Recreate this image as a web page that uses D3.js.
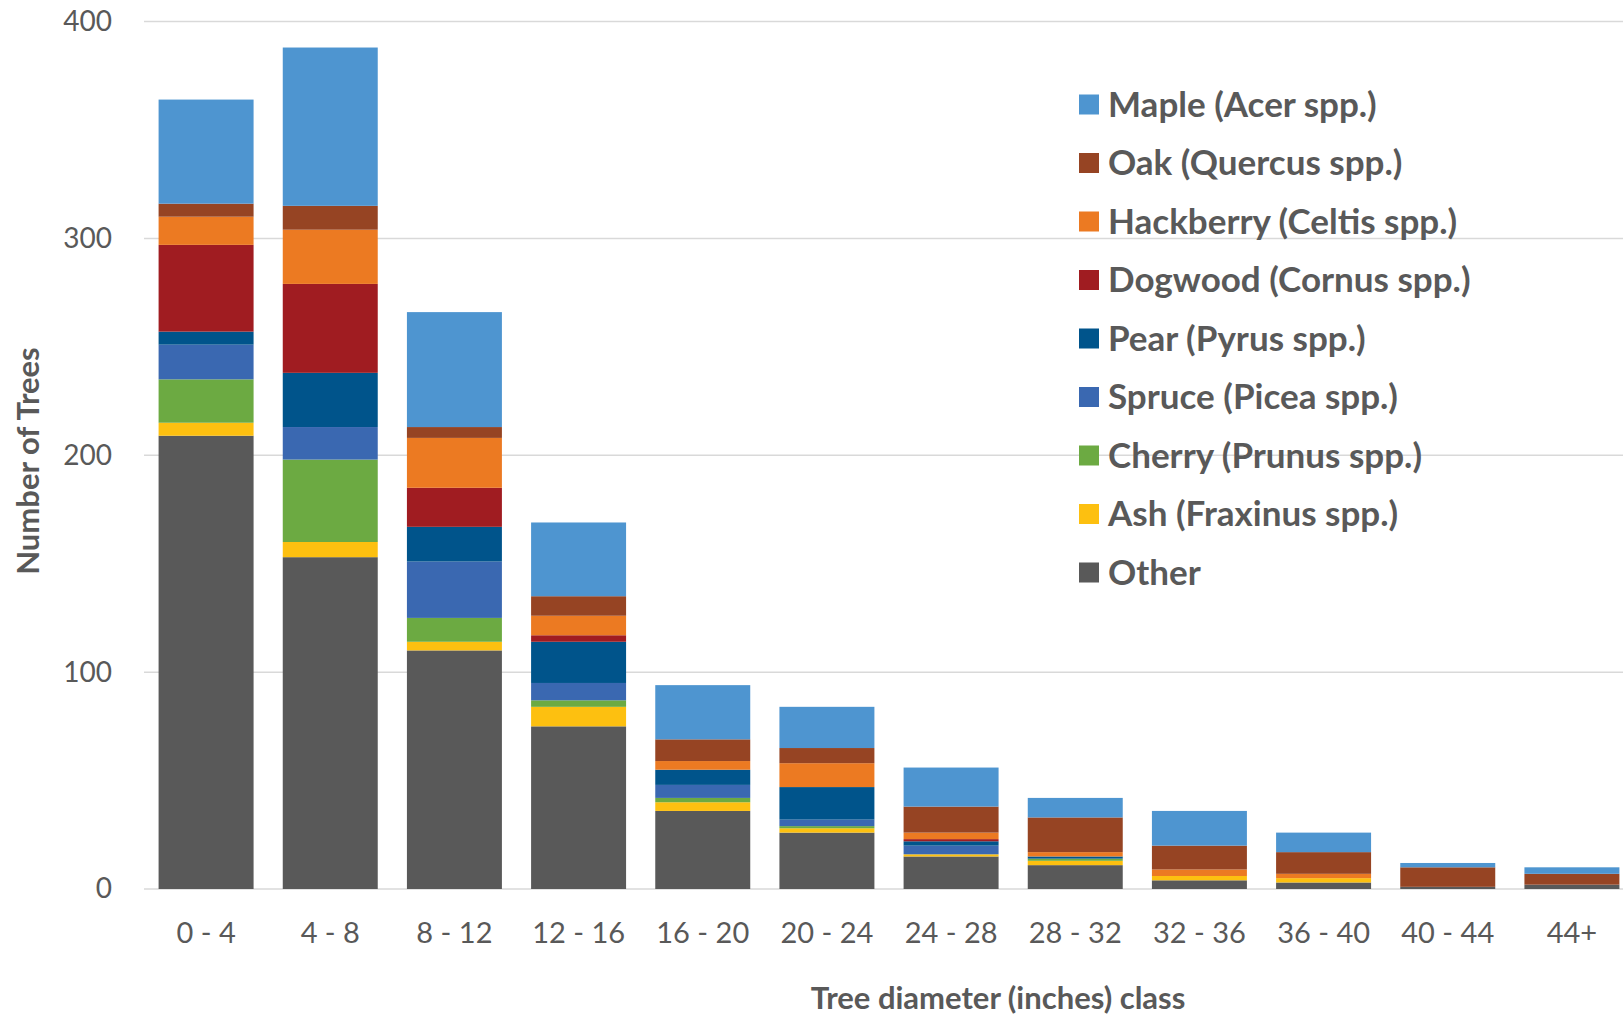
<!DOCTYPE html>
<html lang="en">
<meta charset="utf-8">
<head>
    <script src='https://d3js.org/d3.v7.min.js'></script>
    <style>
        body { margin: 0; background: #fff; }
        text { font-family: Lato, "Open Sans", sans-serif; fill: #595959; }
    </style>
</head>
<body>
<script>
    // diameter classes
    var categories = ["0 - 4", "4 - 8", "8 - 12", "12 - 16", "16 - 20", "20 - 24",
                      "24 - 28", "28 - 32", "32 - 36", "36 - 40", "40 - 44", "44+"];

    // number of trees per species, bottom to top of each stack
    var other     = [209, 153, 110, 75, 36, 26, 15, 11, 4, 3, 1, 2];
    var ash       = [6, 7, 4, 9, 4, 2, 1, 2, 2, 2, 0, 0];
    var cherry    = [20, 38, 11, 3, 2, 1, 0, 1, 0, 0, 0, 0];
    var spruce    = [16, 15, 26, 8, 6, 3, 4, 0, 0, 0, 0, 0];
    var pear      = [6, 25, 16, 19, 7, 15, 2, 1, 0, 0, 0, 0];
    var dogwood   = [40, 41, 18, 3, 0, 0, 1, 0, 0, 0, 0, 0];
    var hackberry = [13, 25, 23, 9, 4, 11, 3, 2, 3, 2, 0, 0];
    var oak       = [6, 11, 5, 9, 10, 7, 12, 16, 11, 10, 9, 5];
    var maple     = [48, 73, 53, 34, 25, 19, 18, 9, 16, 9, 2, 3];

    var yTicks = [0, 100, 200, 300, 400];

    var series = [
        {key: "Other", label: "Other", values: other, color: "#595959"},
        {key: "Ash", label: "Ash (Fraxinus spp.)", values: ash, color: "#FDC010"},
        {key: "Cherry", label: "Cherry (Prunus spp.)", values: cherry, color: "#6CAA42"},
        {key: "Spruce", label: "Spruce (Picea spp.)", values: spruce, color: "#3A68B1"},
        {key: "Pear", label: "Pear (Pyrus spp.)", values: pear, color: "#00548B"},
        {key: "Dogwood", label: "Dogwood (Cornus spp.)", values: dogwood, color: "#A01C21"},
        {key: "Hackberry", label: "Hackberry (Celtis spp.)", values: hackberry, color: "#EC7A22"},
        {key: "Oak", label: "Oak (Quercus spp.)", values: oak, color: "#964423"},
        {key: "Maple", label: "Maple (Acer spp.)", values: maple, color: "#4E95D0"}
    ];

    // build table rows for d3.stack
    var rows = [];
    for (var i = 0; i < categories.length; i++) {
        var row = {cat: categories[i]};
        for (var j = 0; j < series.length; j++) {
            row[series[j].key] = series[j].values[i];
        }
        rows.push(row);
    }

    var width = 1623, height = 1015;
    var left = 144, right = 1634;

    var svg = d3.select("body")
        .append("svg")
        .attr("width", width)
        .attr("height", height);

    var x = d3.scaleBand()
        .domain(categories)
        .range([left, right])
        .paddingInner(0.235)
        .paddingOuter(0.1175);

    var y = d3.scaleLinear()
        .domain([0, 400])
        .range([889, 21.5]);

    // gridlines
    svg.append("g")
        .attr("class", "grid")
        .selectAll("line")
        .data(yTicks)
        .enter()
        .append("line")
        .attr("x1", left)
        .attr("x2", right)
        .attr("y1", function(d) { return y(d) })
        .attr("y2", function(d) { return y(d) })
        .attr("stroke", "#d9d9d9")
        .attr("stroke-width", 1.5);

    // y axis labels
    var yaxis = svg.append("g")
        .attr("transform", "translate(112,0)")
        .call(d3.axisLeft(y).tickValues(yTicks).tickSize(0).tickPadding(0));
    yaxis.select(".domain").remove();
    yaxis.selectAll("text")
        .style("font-size", "28px")
        .style("font-family", "Lato, sans-serif")
        .attr("fill", "#595959");

    // stacked bars
    var stack = d3.stack().keys(series.map(function(d) { return d.key }));
    var layers = stack(rows);

    svg.append("g")
        .selectAll("g")
        .data(layers)
        .enter()
        .append("g")
        .attr("fill", function(d, i) { return series[i].color })
        .selectAll("rect")
        .data(function(d) { return d })
        .enter()
        .append("rect")
        .attr("x", function(d) { return x(d.data.cat) })
        .attr("y", function(d) { return y(d[1]) })
        .attr("width", x.bandwidth())
        .attr("height", function(d) { return y(d[0]) - y(d[1]) });

    // x axis labels
    var xaxis = svg.append("g")
        .attr("transform", "translate(0,922)")
        .call(d3.axisBottom(x).tickSize(0).tickPadding(0));
    xaxis.select(".domain").remove();
    xaxis.selectAll("text")
        .style("font-size", "29px")
        .style("font-family", "Lato, sans-serif")
        .attr("fill", "#595959");

    // axis titles
    svg.append("text")
        .attr("x", 998)
        .attr("y", 1009)
        .attr("text-anchor", "middle")
        .style("font-size", "31px")
        .style("font-weight", "bold")
        .text("Tree diameter (inches) class");

    svg.append("text")
        .attr("transform", "translate(39,461) rotate(-90)")
        .attr("text-anchor", "middle")
        .style("font-size", "31px")
        .style("font-weight", "bold")
        .text("Number of Trees");

    // legend, Maple on top
    var legendData = series.slice().reverse();
    var legend = svg.append("g")
        .selectAll("g")
        .data(legendData)
        .enter()
        .append("g")
        .attr("transform", function(d, i) { return "translate(1079," + (104.5 + i * 58.5) + ")" });

    legend.append("rect")
        .attr("x", 0)
        .attr("y", -10)
        .attr("width", 20)
        .attr("height", 20)
        .attr("fill", function(d) { return d.color });

    legend.append("text")
        .attr("x", 29)
        .attr("y", 12)
        .style("font-size", "35px")
        .style("font-weight", "bold")
        .text(function(d) { return d.label });
</script>
</body>
</html>
